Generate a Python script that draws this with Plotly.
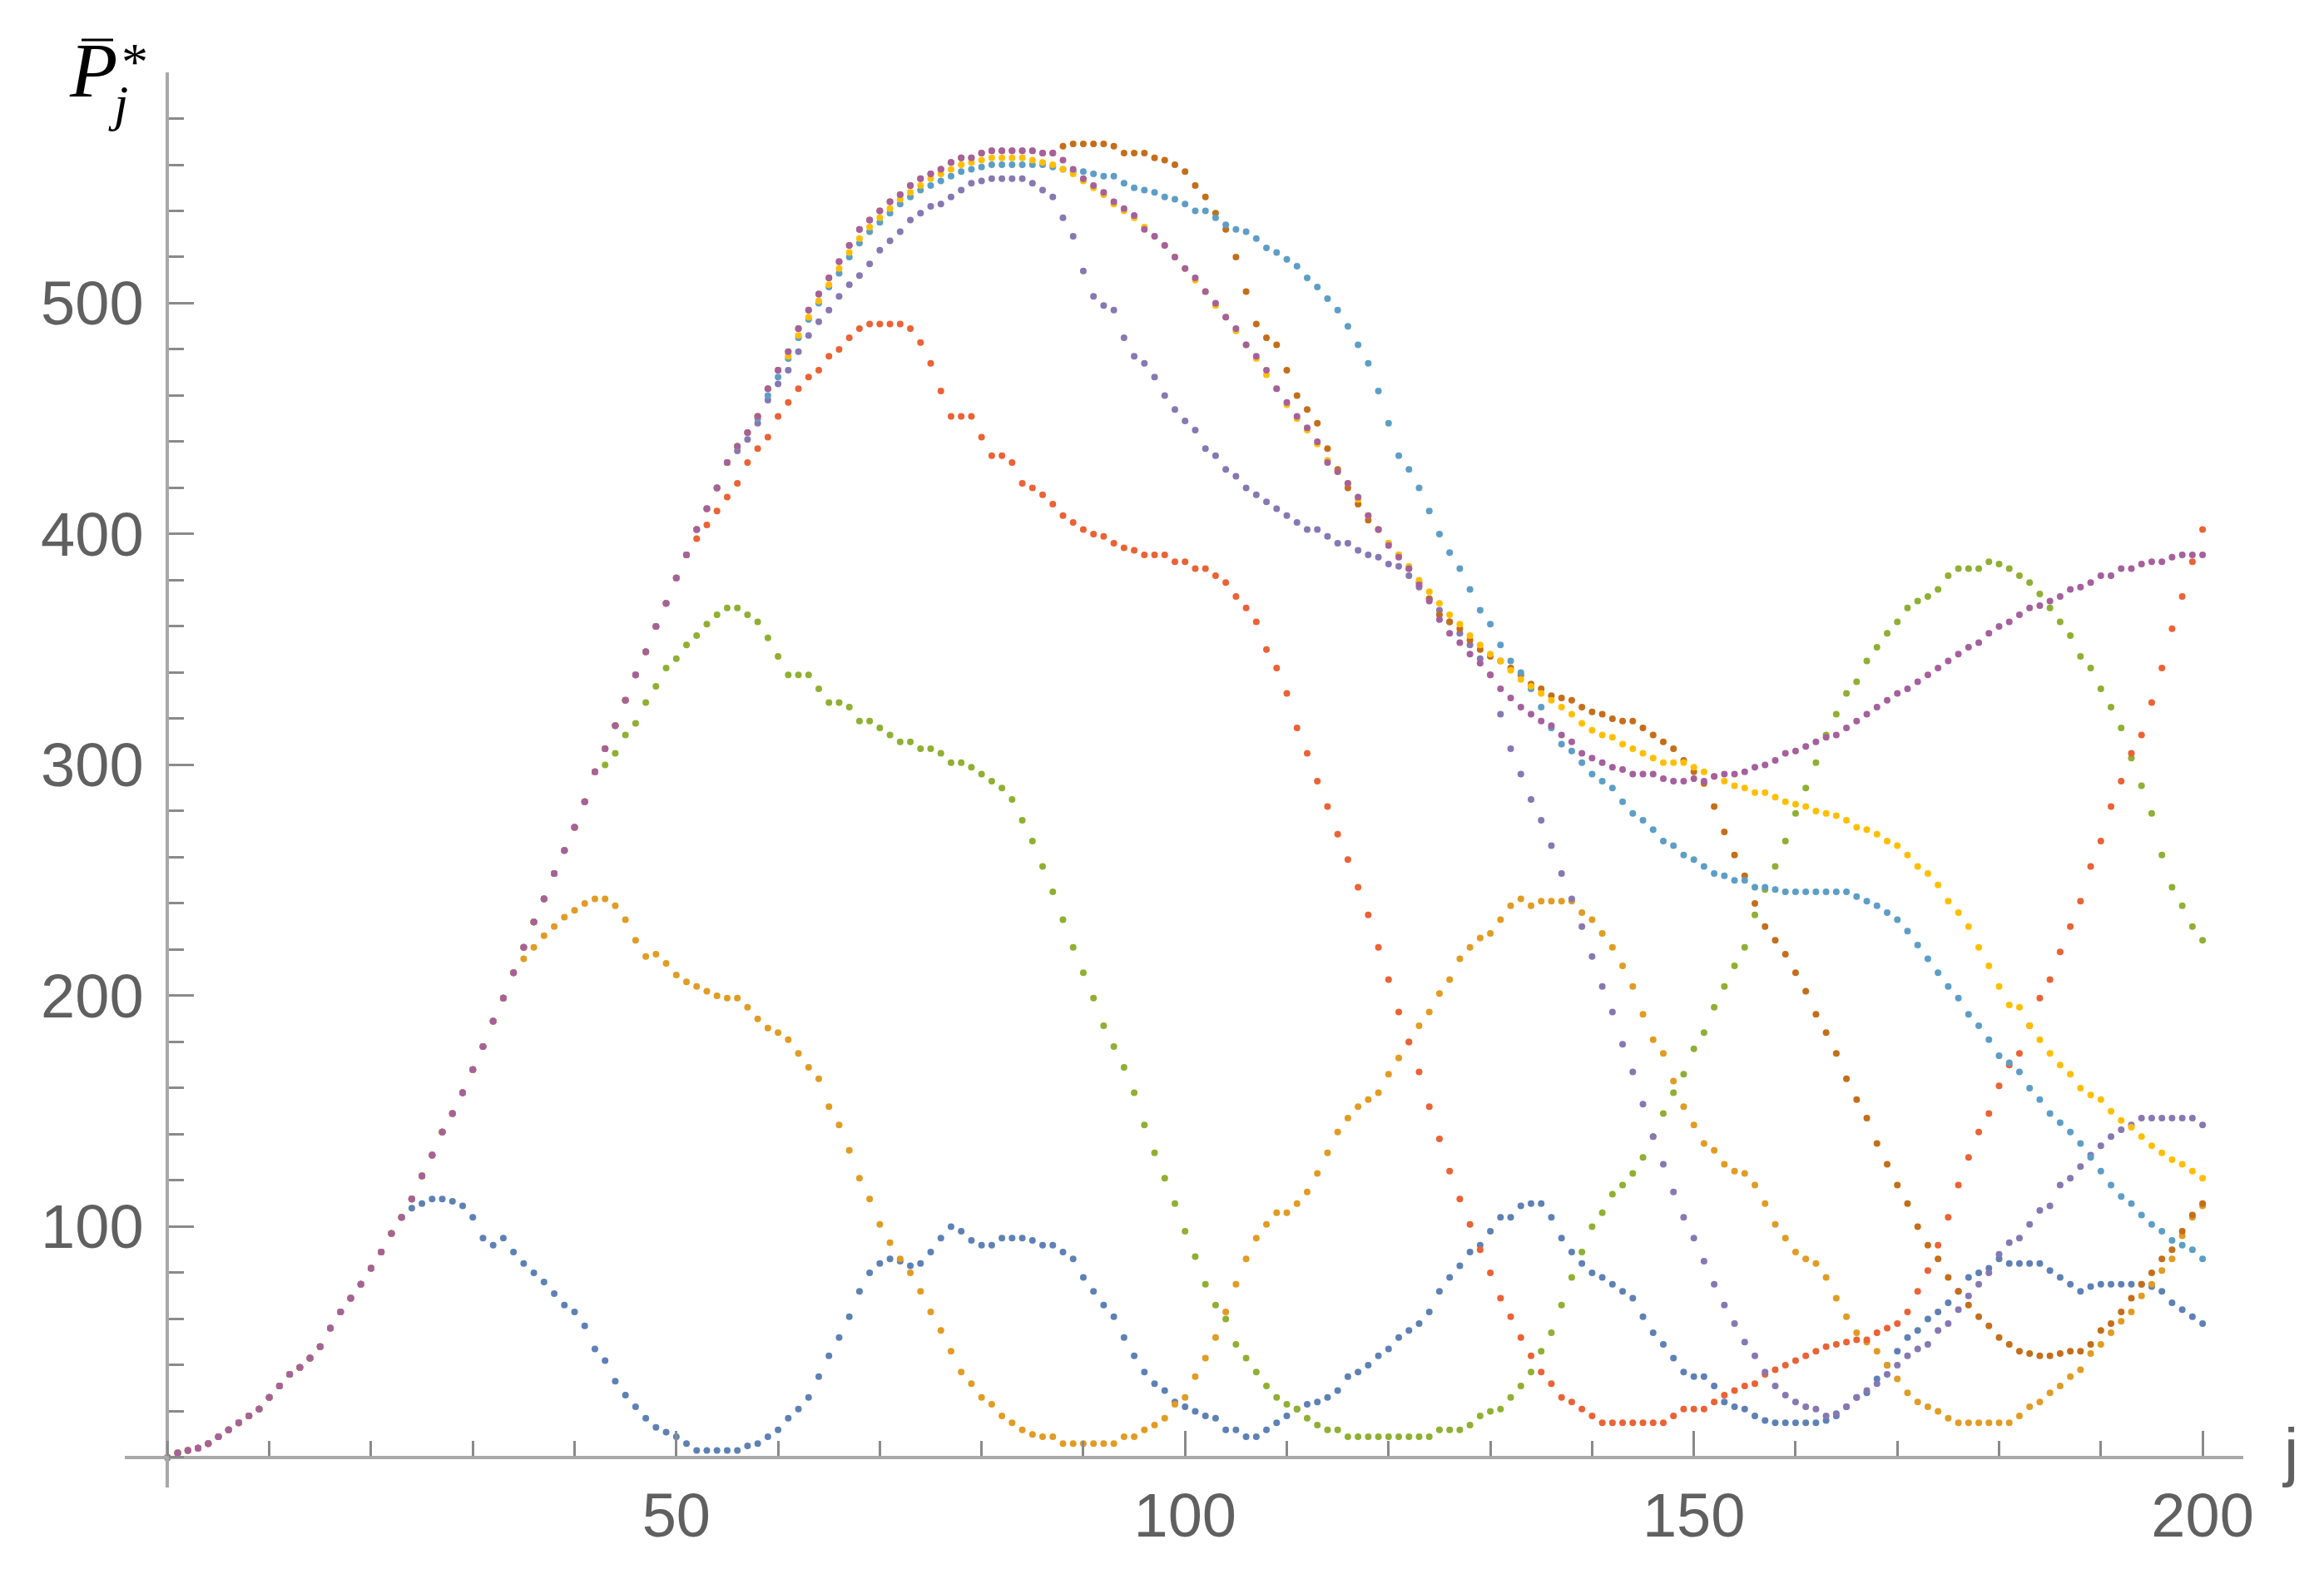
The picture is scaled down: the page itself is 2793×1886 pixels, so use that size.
import plotly.graph_objects as go

# ---------------- data ----------------
# shared rising segment, j = 0..57
rise = [0, 2, 3, 4, 6, 9, 12, 15, 18, 21,
        26, 31, 36, 39, 43, 48, 56, 63, 69, 75,
        82, 89, 97, 104, 112, 122, 131, 141, 149, 158,
        168, 178, 189, 199, 210, 221, 232, 242, 253, 263,
        273, 284, 297, 307, 317, 328, 339, 349, 360, 370,
        381, 391, 402, 411, 420, 431, 438, 444]
# top strand, j = 58..87
top = [451, 463, 471, 479, 489, 497, 504, 511, 518, 525,
       532, 536, 540, 544, 547, 551, 554, 556, 558, 561,
       563, 563, 565, 566, 566, 566, 566, 566, 565, 565]

blue_tail = [108, 110, 112, 112, 111, 109,                      # 24-29
             104, 95, 92, 95, 89, 84, 80, 76, 71, 66,           # 30
             63, 57, 47, 42, 33, 27, 22, 17, 13, 11,            # 40
             9, 6, 3, 3, 3, 3, 3, 5, 6, 9,                      # 50
             12, 17, 21, 26, 35, 44, 52, 61, 72, 80,            # 60
             84, 86, 85, 83, 84, 89, 95, 100, 98, 94,           # 70
             92, 92, 95, 95, 95, 94, 92, 92, 89, 86,            # 80
             78, 72, 66, 61, 52, 44, 37, 32, 29, 24,            # 90
             22, 20, 18, 17, 12, 12, 9, 9, 12, 15,              # 100
             18, 21, 23, 24, 26, 29, 35, 37, 40, 44,            # 110
             47, 52, 55, 58, 63, 72, 78, 83, 89, 92,            # 120
             98, 104, 104, 109, 110, 110, 104, 95, 89, 84,      # 130
             80, 78, 75, 72, 69, 61, 54, 49, 43, 37,            # 140
             35, 35, 31, 24, 22, 21, 18, 16, 15, 15,            # 150
             15, 15, 15, 16, 18, 22, 26, 28, 34, 40,            # 160
             46, 52, 55, 60, 63, 67, 72, 78, 80, 82,            # 170
             86, 84, 84, 84, 84, 81, 78, 75, 72, 74,            # 180
             75, 75, 75, 75, 75, 74, 72, 67, 64, 61,            # 190
             58]                                                # 200

orange_tail = [210, 216, 221, 226, 230, 234,                    # 34-39
               237, 240, 242, 242, 239, 233, 224, 217, 218, 214,
               209, 206, 204, 202, 200, 199, 199, 195, 190, 186,
               184, 181, 175, 169, 164, 152, 144, 133, 121, 112,
               101, 93, 86, 80, 72, 63, 55, 46, 37, 32,
               26, 23, 18, 15, 12, 10, 9, 9, 6, 6,
               6, 6, 6, 6, 9, 9, 12, 14, 17, 23,
               26, 35, 43, 52, 63, 75, 86, 95, 101, 106,
               106, 110, 115, 123, 132, 141, 147, 152, 155, 158,
               166, 173, 180, 187, 193, 201, 207, 216, 221, 225,
               227, 233, 239, 242, 239, 241, 241, 241, 241, 236,
               233, 227, 221, 213, 204, 192, 181, 175, 163, 152,
               144, 136, 133, 127, 124, 123, 118, 110, 101, 95,
               89, 86, 84, 78, 69, 61, 54, 50, 46, 40,
               34, 28, 24, 22, 20, 17, 15, 15, 15, 15,
               15, 15, 18, 22, 24, 28, 31, 35, 38, 45,
               49, 54, 59, 63, 70, 75, 81, 86, 96, 104,
               109]

green_tail = [297, 300, 305, 313, 318, 327, 334, 342,           # 42-49
              346, 352, 356, 361, 365, 368, 368, 365, 362, 355,
              347, 339, 339, 339, 333, 327, 327, 325, 319, 319,
              316, 313, 310, 310, 307, 307, 305, 301, 301, 299,
              296, 293, 290, 285, 276, 267, 256, 245, 233, 221,
              210, 199, 187, 178, 169, 158, 144, 132, 121, 110,
              98, 87, 75, 66, 60, 49, 43, 37, 31, 26,
              23, 21, 17, 14, 12, 12, 9, 9, 9, 9,
              9, 9, 9, 9, 9, 12, 12, 12, 14, 18,
              20, 21, 26, 31, 37, 46, 54, 66, 78, 89,
              100, 106, 114, 118, 123, 130, 139, 149, 158, 166,
              177, 184, 195, 204, 213, 221, 235, 246, 256, 267,
              279, 290, 301, 313, 322, 331, 336, 345, 351, 357,
              362, 368, 371, 373, 376, 382, 385, 385, 385, 388,
              387, 385, 382, 379, 374, 368, 362, 356, 347, 342,
              333, 325, 316, 303, 291, 279, 261, 247, 239, 230,
              224]

red_tail = [398, 404, 410, 416, 422, 431, 437, 442,             # 52-59
            451, 457, 463, 468, 471, 477, 480, 485, 489, 491,
            491, 491, 491, 489, 483, 474, 462, 451, 451, 451,
            442, 434, 434, 431, 422, 420, 417, 413, 408, 405,
            402, 400, 399, 396, 394, 393, 391, 391, 391, 388,
            388, 385, 385, 382, 379, 373, 368, 362, 350, 342,
            331, 316, 305, 293, 282, 270, 259, 247, 235, 221,
            207, 193, 180, 167, 152, 138, 124, 112, 101, 90,
            80, 69, 61, 52, 44, 37, 32, 26, 24, 21,
            18, 15, 15, 15, 15, 15, 15, 15, 18, 21,
            21, 21, 24, 27, 29, 31, 32, 36, 38, 40,
            42, 44, 46, 48, 49, 50, 51, 51, 54, 56,
            58, 63, 72, 81, 92, 104, 118, 130, 141, 149,
            161, 170, 175, 187, 199, 207, 219, 230, 241, 256,
            267, 282, 293, 305, 313, 327, 342, 359, 373, 388,
            402]

purple_tail = [436, 441, 448, 458,                              # 56-59
               465, 471, 479, 486, 492, 497, 503, 508, 512, 517,
               523, 527, 531, 536, 539, 542, 543, 546, 549, 552,
               553, 554, 554, 554, 554, 552, 549, 546, 537, 529,
               514, 503, 499, 497, 485, 477, 474, 468, 460, 454,
               449, 445, 437, 434, 428, 425, 420, 417, 414, 411,
               408, 405, 402, 402, 399, 396, 396, 393, 391, 390,
               387, 386, 382, 377, 372, 367, 362, 357, 352, 346,
               339, 322, 307, 296, 285, 276, 265, 253, 242, 230,
               217, 204, 193, 179, 167, 153, 139, 127, 115, 104,
               95, 85, 75, 66, 58, 50, 44, 37, 31, 27,
               24, 22, 21, 18, 19, 22, 26, 29, 32, 36,
               40, 44, 47, 49, 55, 58, 64, 70, 75, 80,
               88, 93, 95, 101, 107, 109, 118, 121, 126, 131,
               135, 139, 142, 144, 147, 147, 147, 147, 147, 147,
               144]

brown_tail = [568, 569,                                         # 88-89
              569, 569, 569, 568, 565, 565, 565, 563, 562, 560,
              557, 551, 546, 539, 532, 520, 505, 491, 485, 482,
              471, 460, 454, 448, 437, 428, 420, 413, 406, 402,
              396, 391, 385, 379, 372, 365, 362, 359, 354, 350,
              347, 345, 342, 339, 335, 333, 330, 329, 328, 325,
              323, 322, 320, 319, 319, 316, 313, 310, 307, 302,
              297, 292, 282, 271, 261, 252, 240, 230, 224, 218,
              210, 202, 192, 184, 175, 164, 155, 147, 136, 127,
              118, 110, 100, 92, 86, 78, 72, 66, 61, 57,
              52, 49, 46, 45, 44, 44, 45, 46, 46, 49,
              55, 58, 63, 69, 75, 80, 86, 90, 98, 105,
              110]

lightblue_tail = [450, 460,                                     # 58-59
                  468, 476, 485, 493, 500, 507, 513, 520, 526, 531,
                  535, 539, 543, 546, 549, 551, 553, 555, 557, 558,
                  559, 560, 560, 560, 560, 560, 560, 559, 558, 557,
                  557, 556, 555, 555, 552, 550, 549, 548, 546, 545,
                  543, 540, 540, 537, 534, 532, 531, 528, 524, 522,
                  519, 516, 511, 507, 502, 497, 490, 482, 474, 462,
                  448, 434, 428, 420, 410, 400, 392, 385, 376, 367,
                  361, 352, 345, 340, 333, 325, 316, 309, 306, 301,
                  296, 293, 290, 284, 279, 276, 272, 267, 265, 261,
                  259, 256, 253, 252, 250, 250, 247, 247, 246, 245,
                  245, 245, 245, 245, 245, 245, 243, 241, 239, 236,
                  233, 228, 222, 216, 210, 204, 199, 192, 187, 181,
                  174, 171, 167, 160, 155, 149, 145, 141, 136, 130,
                  124, 118, 113, 110, 105, 101, 98, 94, 92, 90,
                  86]

yellow_tail = [477, 486, 494, 501, 508, 515, 522, 528, 533,     # 61-69
               537, 541, 545, 548, 551, 554, 556, 558, 560, 561,
               562, 563, 563, 563, 563, 562, 561, 560, 558, 556,
               553, 550, 547, 543, 540, 537, 533, 529, 525, 520,
               515, 510, 505, 499, 494, 488, 482, 476, 469, 463,
               456, 450, 445, 439, 432, 427, 422, 415, 408, 402,
               396, 391, 386, 380, 375, 370, 365, 361, 356, 352,
               348, 345, 341, 337, 334, 331, 328, 325, 322, 318,
               315, 313, 312, 309, 307, 305, 303, 301, 301, 301,
               299, 297, 295, 293, 291, 290, 288, 288, 286, 284,
               283, 282, 280, 279, 278, 276, 273, 272, 270, 267,
               265, 261, 256, 253, 248, 241, 236, 230, 221, 213,
               204, 196, 195, 187, 181, 175, 170, 166, 160, 157,
               155, 150, 146, 143, 139, 135, 132, 129, 127, 124,
               121]

magenta_tail = [562, 558,                                       # 88-89
                554, 551, 548, 544, 541, 538, 532, 529, 525, 520,
                515, 511, 505, 500, 494, 489, 482, 477, 471, 463,
                457, 451, 446, 440, 431, 427, 422, 416, 408, 402,
                395, 390, 385, 378, 371, 363, 357, 353, 348, 344,
                339, 333, 329, 325, 322, 319, 317, 313, 310, 305,
                303, 301, 299, 298, 296, 296, 296, 294, 293, 293,
                294, 293, 295, 296, 296, 297, 299, 300, 302, 305,
                306, 308, 310, 312, 313, 316, 319, 322, 325, 328,
                331, 333, 336, 339, 342, 345, 348, 351, 353, 357,
                360, 362, 365, 368, 369, 371, 373, 376, 377, 379,
                382, 382, 385, 385, 387, 388, 388, 390, 391, 391,
                391]

j_values = list(range(0, 201))
x_tick_vals = [50, 100, 150, 200]
y_tick_vals = [100, 200, 300, 400, 500]

series = [
    ("blue", rise[:24] + blue_tail, "#5E81B5"),
    ("orange", rise[:34] + orange_tail, "#E19C24"),
    ("green", rise[:42] + green_tail, "#8FB032"),
    ("red", rise[:52] + red_tail, "#EB6235"),
    ("purple", rise[:56] + purple_tail, "#8778B3"),
    ("brown", rise + top + brown_tail, "#C56E1A"),
    ("lightblue", rise + lightblue_tail, "#5D9EC7"),
    ("yellow", rise + top[:3] + yellow_tail, "#FFBF00"),
    ("magenta", rise + top + magenta_tail, "#A5609D"),
]

# ---------------- figure ----------------
OFF = 8                     # default page margin of the browser
W, H = 2793 - 2 * OFF, 1886 - 2 * OFF
# plot area wanted at absolute pixels
AX0, AX1, AY0, AY1 = 150, 2696, 87, 1788
L, T = AX0 - OFF, AY0 - OFF
R, B = W - (AX1 - OFF), H - (AY1 - OFF)
XR = [-4.2, 204]
YR = [-13, 600]

fig = go.Figure()
for name, vals, col in series:
    n = min(len(vals), len(j_values))
    fig.add_trace(go.Scatter(
        x=j_values[:n], y=vals[:n], mode="markers", name=name,
        marker=dict(color=col, size=8, line=dict(width=0)),
        showlegend=False, hoverinfo="skip"))

pw = AX1 - AX0
ph = AY1 - AY0


def px(xa):
    return (xa - AX0) / pw


def py(ya):
    return (AY1 - ya) / ph


tick_font = dict(family="Liberation Sans, Arial, sans-serif", size=74, color="#606060")
axis_col = "#a9a9a9"
tick_col = "#8a8a8a"

fig.update_layout(
    width=W, height=H,
    margin=dict(l=L, r=R, t=T, b=B, pad=0),
    paper_bgcolor="white", plot_bgcolor="white",
    xaxis=dict(
        range=XR, anchor="free", position=(0 - YR[0]) / (YR[1] - YR[0]),
        showgrid=False, zeroline=False, showline=True,
        linecolor=axis_col, linewidth=4,
        tickmode="array", tickvals=x_tick_vals,
        ticks="inside", ticklen=30, tickwidth=3, tickcolor=tick_col,
        tickfont=tick_font, ticklabelstandoff=4,
        minor=dict(tickmode="linear", tick0=0, dtick=10, ticks="inside",
                   ticklen=18, tickwidth=3, tickcolor=tick_col, showgrid=False),
    ),
    yaxis=dict(
        range=YR, anchor="free", position=(0 - XR[0]) / (XR[1] - XR[0]),
        showgrid=False, zeroline=False, showline=True,
        linecolor=axis_col, linewidth=4,
        tickmode="array", tickvals=y_tick_vals,
        ticks="inside", ticklen=30, tickwidth=3, tickcolor=tick_col,
        tickfont=tick_font, ticklabelstandoff=12,
        minor=dict(tickmode="linear", tick0=0, dtick=20, ticks="inside",
                   ticklen=18, tickwidth=3, tickcolor=tick_col, showgrid=False),
    ),
)

serif = "Liberation Serif, Times New Roman, serif"
fig.add_annotation(xref="paper", yref="paper", x=px(112), y=py(84),
                   text="<i>P</i>", showarrow=False, xanchor="center", yanchor="middle",
                   font=dict(family=serif, size=94, color="black"))
fig.add_annotation(xref="paper", yref="paper", x=px(162), y=py(74),
                   text="*", showarrow=False, xanchor="center", yanchor="middle",
                   font=dict(family=serif, size=64, color="black"))
fig.add_annotation(xref="paper", yref="paper", x=px(142), y=py(124),
                   text="<i>j</i>", showarrow=False, xanchor="center", yanchor="middle",
                   font=dict(family=serif, size=62, color="black"))
fig.add_shape(type="line", xref="paper", yref="paper",
              x0=px(98), x1=px(136), y0=py(48), y1=py(48),
              line=dict(color="black", width=3))
fig.add_annotation(xref="paper", yref="paper", x=px(2752), y=py(1745),
                   text="j", showarrow=False, xanchor="center", yanchor="middle",
                   font=dict(family="Liberation Sans, Arial, sans-serif", size=78, color="#606060"))

fig.write_html("out.html")
